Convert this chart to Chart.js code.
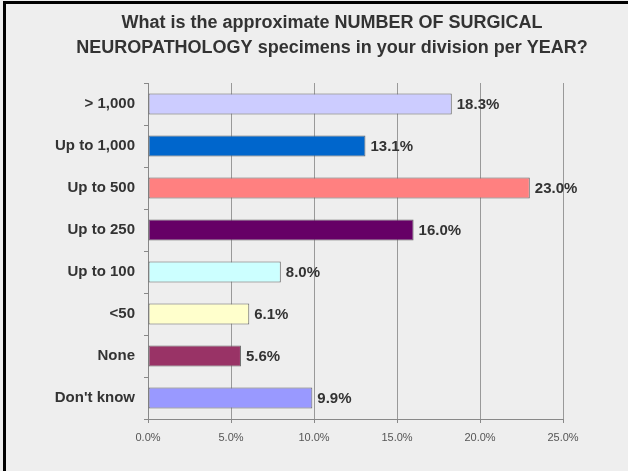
<!DOCTYPE html>
<html>
<head>
<meta charset="utf-8">
<script src="https://cdn.jsdelivr.net/npm/chart.js@4/dist/chart.umd.min.js"></script>
<style>
  html, body { margin: 0; padding: 0; background: #eeeeee; }
  #wrap { position: relative; width: 628px; height: 471px; }
  #frame {
    position: absolute; left: 3px; top: 1px; right: 0; bottom: -5px;
    border-left: 3px solid #000; border-top: 3px solid #000;
    pointer-events: none;
  }
</style>
</head>
<body>
<div id="wrap">
  <canvas id="survey_chart" width="628" height="471"></canvas>
  <div id="frame"></div>
</div>
<script>
var categories = ["> 1,000", "Up to 1,000", "Up to 500", "Up to 250", "Up to 100", "<50", "None", "Don't know"];
var percentValues = [18.3, 13.1, 23.0, 16.0, 8.0, 6.1, 5.6, 9.9];
var barColors = ["#ccccff", "#0066cc", "#ff8080", "#660066", "#ccffff", "#ffffcc", "#993366", "#9999ff"];
var titleLines = ["What is the approximate NUMBER OF SURGICAL", "NEUROPATHOLOGY specimens in your division per YEAR?"];

var fontName = "'Liberation Sans', Arial, sans-serif";

// title is drawn by hand because it is not centred on the canvas
var chartTitle = {
    id: 'chartTitle',
    afterDraw(chart) {
        var ctx = chart.ctx;
        ctx.save();
        ctx.font = "bold 18px " + fontName;
        ctx.fillStyle = "#333333";
        ctx.textAlign = "center";
        ctx.textBaseline = "middle";
        titleLines.forEach(function (line, i) {
            ctx.fillText(line, 332, 23 + i * 25);
        });
        ctx.restore();
    }
};

// draws the "18.3%" labels at the end of each bar
var valueLabels = {
    id: 'valueLabels',
    afterDatasetsDraw(chart) {
        var ctx = chart.ctx;
        var meta = chart.getDatasetMeta(0);
        ctx.save();
        ctx.font = "bold 15px " + fontName;
        ctx.fillStyle = "#333333";
        ctx.textAlign = "left";
        ctx.textBaseline = "middle";
        meta.data.forEach(function (bar, i) {
            ctx.fillText(percentValues[i].toFixed(1) + "%", bar.x + 5, bar.y + 1);
        });
        ctx.restore();
    }
};

var chartElement = document.getElementById('survey_chart');

var surveyChart = new Chart(chartElement, {
    type: 'bar',
    data: {
        labels: categories,
        datasets: [{
            data: percentValues,
            backgroundColor: barColors,
            borderColor: "#666666",
            borderWidth: 1,
            borderSkipped: false,
            categoryPercentage: 0.5,
            barPercentage: 1.0
        }]
    },
    options: {
        indexAxis: 'y',
        responsive: false,
        animation: false,
        layout: {
            padding: { left: 10, right: 65, top: 83, bottom: 22 }
        },
        scales: {
            x: {
                min: 0,
                max: 25,
                ticks: {
                    stepSize: 5,
                    padding: 8,
                    color: "#555555",
                    font: { family: fontName, size: 11 },
                    callback: function (v) { return v.toFixed(1) + "%"; }
                },
                grid: {
                    color: "#999999",
                    tickLength: 4,
                    tickColor: "#888888"
                },
                border: { color: "#888888" },
                afterFit: function (scale) { scale.height = 30; }
            },
            y: {
                ticks: {
                    padding: 9,
                    color: "#333333",
                    font: { family: fontName, size: 15, weight: 'bold' }
                },
                grid: {
                    drawOnChartArea: false,
                    tickLength: 4,
                    color: "#888888"
                },
                border: { color: "#888888" },
                afterFit: function (scale) { scale.width = 138; }
            }
        },
        plugins: {
            legend: { display: false },
            tooltip: { enabled: false },
            title: { display: false }
        }
    },
    plugins: [valueLabels, chartTitle]
});
</script>
</body>
</html>
